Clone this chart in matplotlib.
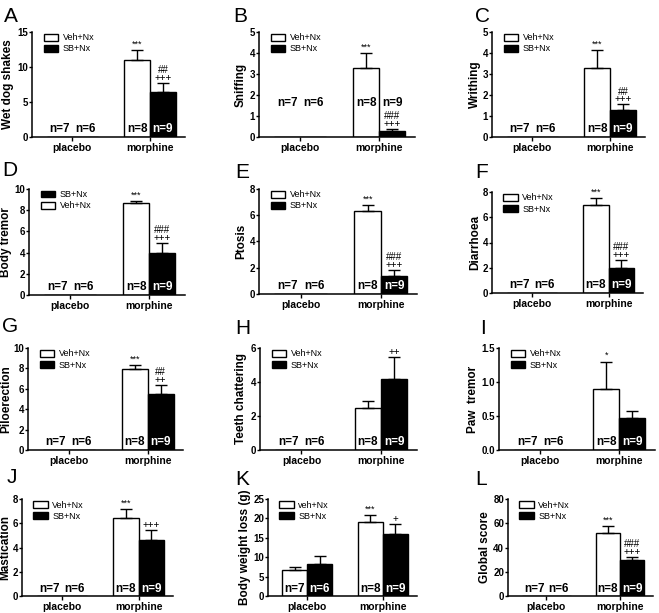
import matplotlib
matplotlib.use("Agg")
import matplotlib.pyplot as plt
from matplotlib.patches import Patch
import matplotlib.transforms as mtransforms

plt.rcParams['font.family'] = ['Liberation Sans', 'DejaVu Sans']

groups = ["placebo", "morphine"]
panel_letters = ["A", "B", "C", "D", "E", "F", "G", "H", "I", "J", "K", "L"]
ylabels = ["Wet dog shakes", "Sniffing", "Writhing", "Body tremor", "Ptosis", "Diarrhoea",
           "Piloerection", "Teeth chattering", "Paw  tremor", "Mastication",
           "Body weight loss (g)", "Global score"]
ymax = [15, 5, 5, 10, 8, 8, 10, 6, 1.5, 8, 25, 80]
ystep = [5, 1, 1, 2, 2, 2, 2, 2, 0.5, 2, 5, 20]
# means: [placebo, morphine]
veh_mean = [[0, 11.0], [0, 3.3], [0, 3.3], [0, 8.65], [0, 6.35], [0, 6.95],
            [0, 7.9], [0, 2.45], [0, 0.9], [0, 6.4], [6.7, 19.1], [0, 52.0]]
veh_sem = [[0, 1.4], [0, 0.7], [0, 0.85], [0, 0.2], [0, 0.4], [0, 0.6],
           [0, 0.45], [0, 0.45], [0, 0.4], [0, 0.8], [0.7, 1.7], [0, 5.5]]
sb_mean = [[0, 6.5], [0, 0.3], [0, 1.3], [0, 4.0], [0, 1.35], [0, 2.0],
           [0, 5.5], [0, 4.15], [0, 0.47], [0, 4.65], [8.3, 15.9], [0, 30.0]]
sb_sem = [[0, 1.2], [0, 0.1], [0, 0.25], [0, 0.9], [0, 0.5], [0, 0.65],
          [0, 0.9], [0, 1.3], [0, 0.11], [0, 0.8], [2.0, 2.6], [0, 2.5]]
veh_marks = ["***", "***", "***", "***", "***", "***", "***", "", "*", "***", "***", "***"]
sb_marks = ["##\n+++", "###\n+++", "##\n+++", "###\n+++", "###\n+++", "###\n+++",
            "##\n++", "++", "", "+++", "+", "###\n+++"]
n_veh = ["n=7", "n=8"]
n_sb = ["n=6", "n=9"]
veh_names = ["Veh+Nx"] * 10 + ["veh+Nx", "Veh+Nx"]
sb_first = [False, False, False, True, False, False, False, False, False, False, False, False]

W, H = 659, 613
# axes boxes in pixels: left, top, right, bottom
boxes = [(32, 32, 185, 137), (259, 32, 415, 137), (492, 32, 645, 137),
         (29, 189, 185, 295), (259, 189, 417, 294), (492, 192, 643, 293),
         (28, 348, 183, 450), (260, 348, 417, 450), (499, 348, 655, 450),
         (22, 499, 173, 596), (268, 499, 417, 596), (508, 499, 653, 596)]
ylabel_x = [8, 241, 475, 6, 241, 475, 6, 241, 473, 5, 245, 485]
letter_pos = [(4, 22), (233, 22), (475, 22), (2, 176), (235, 178), (475, 178),
              (2, 332), (235, 334), (480, 334), (7, 483), (235, 485), (475, 485)]

fig = plt.figure(figsize=(W / 100, H / 100), dpi=100)
bw = 0.33
for i in range(12):
    l, t, r, b = boxes[i]
    ax = fig.add_axes([l / W, 1 - b / H, (r - l) / W, (b - t) / H])
    x = [0, 1]
    xv = [xx - bw / 2 for xx in x]
    xs = [xx + bw / 2 for xx in x]
    ax.bar(xv, veh_mean[i], bw, color="white", edgecolor="black", linewidth=1.0, zorder=2)
    ax.bar(xs, sb_mean[i], bw, color="black", edgecolor="black", linewidth=1.0, zorder=2)
    for j in range(2):
        if veh_sem[i][j] > 0:
            ax.errorbar(xv[j], veh_mean[i][j], yerr=[[0], [veh_sem[i][j]]], color="black",
                        capsize=4.5, elinewidth=1.0, capthick=1.0, zorder=3)
        if sb_sem[i][j] > 0:
            ax.errorbar(xs[j], sb_mean[i][j], yerr=[[0], [sb_sem[i][j]]], color="black",
                        capsize=4.5, elinewidth=1.0, capthick=1.0, zorder=3)
    # significance marks
    top_v = veh_mean[i][1] + veh_sem[i][1]
    top_s = sb_mean[i][1] + sb_sem[i][1]
    if veh_marks[i]:
        ax.annotate(veh_marks[i], (xv[1], top_v), xytext=(0, 1), textcoords="offset points",
                    ha="center", va="bottom", fontsize=6.5, linespacing=0.8)
    if sb_marks[i]:
        ax.annotate(sb_marks[i], (xs[1], top_s), xytext=(0, 0), textcoords="offset points",
                    ha="center", va="bottom", fontsize=7, linespacing=0.72)
    # n labels
    trans = mtransforms.blended_transform_factory(ax.transData, ax.transAxes)
    ny = 0.27 if i == 1 else 0.015
    for j in range(2):
        ax.text(xv[j], ny, n_veh[j], transform=trans, ha="center", va="bottom",
                fontsize=8.5, fontweight="bold", color="black", zorder=4)
        col = "white" if (sb_mean[i][j] > 0 and i != 1) else "black"
        ax.text(xs[j], ny, n_sb[j], transform=trans, ha="center", va="bottom",
                fontsize=8.5, fontweight="bold", color=col, zorder=4)
    ax.set_xlim(-0.52, 1.45)
    ax.set_ylim(0, ymax[i])
    ticks = []
    v = 0.0
    while v <= ymax[i] + 1e-9:
        ticks.append(round(v, 2))
        v += ystep[i]
    ax.set_yticks(ticks)
    if ystep[i] < 1:
        ax.set_yticklabels([f"{tk:.1f}" for tk in ticks])
    else:
        ax.set_yticklabels([f"{int(tk)}" for tk in ticks])
    ax.set_xticks(x)
    ax.set_xticklabels(groups)
    for s in ["top", "right"]:
        ax.spines[s].set_visible(False)
    for s in ["left", "bottom"]:
        ax.spines[s].set_linewidth(1.1)
    ax.tick_params(axis="y", direction="out", length=2, width=1.0, labelsize=7, pad=0.8)
    ax.tick_params(axis="x", direction="out", length=3, width=1.0, labelsize=7.5, pad=1.5)
    for lab in ax.get_xticklabels() + ax.get_yticklabels():
        lab.set_fontweight("bold")
    ax.set_ylabel(ylabels[i], fontsize=8.5, fontweight="bold")
    ax.yaxis.label.set_va("center")
    ax.yaxis.set_label_coords((ylabel_x[i] - l) / (r - l), 0.5)
    hv = Patch(facecolor="white", edgecolor="black", label=veh_names[i])
    hs = Patch(facecolor="black", edgecolor="black", label="SB+Nx")
    handles = [hs, hv] if sb_first[i] else [hv, hs]
    ax.legend(handles=handles, loc="upper left", bbox_to_anchor=(0.04, 1.04), frameon=False,
              fontsize=6.5, handlelength=1.6, handleheight=0.8, labelspacing=0.25,
              handletextpad=0.5, borderaxespad=0.2)
    fig.text(letter_pos[i][0] / W, 1 - letter_pos[i][1] / H, panel_letters[i],
             fontsize=15, ha="left", va="baseline")

fig.savefig("out.png", dpi=100)
